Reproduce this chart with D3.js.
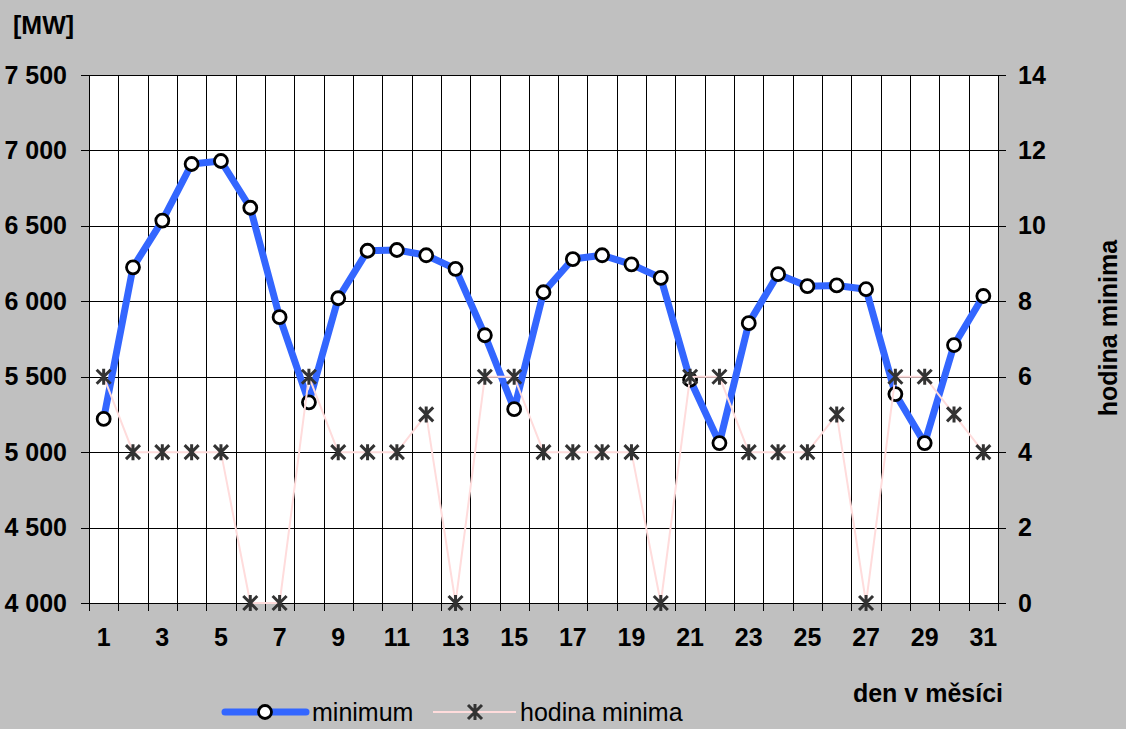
<!DOCTYPE html>
<meta charset="utf-8">
<style>
body { margin: 0; background: #c0c0c0; }
svg { display: block; font-family: "Liberation Sans", Arial, sans-serif; }
.axis text { font-size: 25px; font-weight: bold; fill: #000; }
.axis path { display: none; }
.axis line { stroke: #000; shape-rendering: crispEdges; }
.grid line { stroke: #000; shape-rendering: crispEdges; }
</style>
<body>
<script src="https://d3js.org/d3.v7.min.js"></script>
<script>

var days = d3.range(1, 32);
var minimum = [5220, 6225, 6535, 6910, 6930, 6620, 5895, 5330, 6020, 6335,
               6340, 6305, 6215, 5775, 5285, 6060, 6280, 6305, 6245, 6155,
               5480, 5060, 5855, 6180, 6100, 6105, 6080, 5385, 5060, 5710, 6035];
var hodina = [6, 4, 4, 4, 4, 0, 0, 6, 4, 4, 4, 5, 0, 6, 6, 4, 4, 4, 4, 0,
              6, 6, 4, 4, 4, 5, 0, 6, 6, 5, 4];
var mwTicks = [4000, 4500, 5000, 5500, 6000, 6500, 7000, 7500];
var hourTicks = [0, 2, 4, 6, 8, 10, 12, 14];

var W = 1126, H = 729;
var plotL = 89, plotR = 998, plotT = 75, plotB = 603;

var svg = d3.select("body").append("svg")
    .attr("width", W)
    .attr("height", H);

var x = d3.scaleBand().domain(days).range([plotL, plotR]).padding(0);
var y = d3.scaleLinear().domain([4000, 7500]).range([plotB, plotT]);
var y2 = d3.scaleLinear().domain([0, 14]).range([plotB, plotT]);

svg.append("rect")
    .attr("x", plotL).attr("y", plotT)
    .attr("width", plotR - plotL).attr("height", plotB - plotT)
    .attr("fill", "#fff");

// vertical gridlines at day boundaries
var bounds = days.map(d => x(d)).concat([plotR]);
svg.append("g").attr("class", "grid")
  .selectAll("line").data(bounds).enter().append("line")
    .attr("x1", d => Math.round(d) + 0.5).attr("x2", d => Math.round(d) + 0.5)
    .attr("y1", plotT).attr("y2", plotB + 8);

// horizontal gridlines
svg.append("g").attr("class", "grid")
  .selectAll("line").data(mwTicks).enter().append("line")
    .attr("x1", plotL).attr("x2", plotR)
    .attr("y1", d => Math.round(y(d)) + 0.5).attr("y2", d => Math.round(y(d)) + 0.5);

var fmt = d => d3.format(",")(d).replace(",", " ");

svg.append("g").attr("class", "axis yl")
    .attr("transform", "translate(" + plotL + ",0)")
    .call(d3.axisLeft(y).tickValues(mwTicks).tickSize(8).tickPadding(14).tickFormat(fmt));

svg.append("g").attr("class", "axis yr")
    .attr("transform", "translate(" + plotR + ",0)")
    .call(d3.axisRight(y2).tickValues(hourTicks).tickSize(8).tickPadding(12));

svg.append("g").attr("class", "axis xb")
    .attr("transform", "translate(0," + plotB + ")")
    .call(d3.axisBottom(x).tickSize(0).tickPadding(34)
        .tickFormat(d => d % 2 === 1 ? d : ""));

svg.selectAll(".xb text").attr("dy", "0.35em");

var cx = d => x(d) + x.bandwidth() / 2;

// minimum line
svg.append("path")
    .datum(days)
    .attr("fill", "none")
    .attr("stroke", "#3366ff")
    .attr("stroke-width", 7)
    .attr("stroke-linejoin", "round")
    .attr("d", d3.line().x(cx).y((d, i) => y(minimum[i])));

svg.append("g").selectAll("circle").data(days).enter().append("circle")
    .attr("cx", cx).attr("cy", (d, i) => y(minimum[i]))
    .attr("r", 6.5)
    .attr("fill", "#fff").attr("stroke", "#000").attr("stroke-width", 2.8);

// hodina minima line
svg.append("path")
    .datum(days)
    .attr("fill", "none")
    .attr("stroke", "#ffdcdc")
    .attr("stroke-width", 2)
    .attr("d", d3.line().x(cx).y((d, i) => y2(hodina[i])));

var star = "M-7,-7L7,7M-7,7L7,-7M0,-8L0,8";
svg.append("g").selectAll("path").data(days).enter().append("path")
    .attr("transform", (d, i) => "translate(" + cx(d) + "," + y2(hodina[i]) + ")")
    .attr("d", star)
    .attr("stroke", "#333").attr("stroke-width", 3).attr("fill", "none");

// titles
svg.append("text").attr("x", 13).attr("y", 34)
    .attr("font-size", 25).attr("font-weight", "bold").text("[MW]");

svg.append("text")
    .attr("transform", "translate(1117,328) rotate(-90)")
    .attr("text-anchor", "middle")
    .attr("font-size", 25).attr("font-weight", "bold").text("hodina minima");

svg.append("text").attr("x", 1003).attr("y", 702)
    .attr("text-anchor", "end")
    .attr("font-size", 25).attr("font-weight", "bold").text("den v měsíci");

// legend
var ly = 712;
var lg = svg.append("g");
lg.append("line").attr("x1", 225).attr("x2", 306).attr("y1", ly).attr("y2", ly)
    .attr("stroke", "#3366ff").attr("stroke-width", 7).attr("stroke-linecap", "round");
lg.append("circle").attr("cx", 265).attr("cy", ly).attr("r", 6.5)
    .attr("fill", "#fff").attr("stroke", "#000").attr("stroke-width", 2.8);
lg.append("text").attr("x", 312).attr("y", ly + 9).attr("font-size", 25).text("minimum");
lg.append("line").attr("x1", 433).attr("x2", 516).attr("y1", ly).attr("y2", ly)
    .attr("stroke", "#ffdcdc").attr("stroke-width", 2);
lg.append("path").attr("transform", "translate(475," + ly + ")").attr("d", star)
    .attr("stroke", "#333").attr("stroke-width", 3).attr("fill", "none");
lg.append("text").attr("x", 520).attr("y", ly + 9).attr("font-size", 25).text("hodina minima");

</script>
